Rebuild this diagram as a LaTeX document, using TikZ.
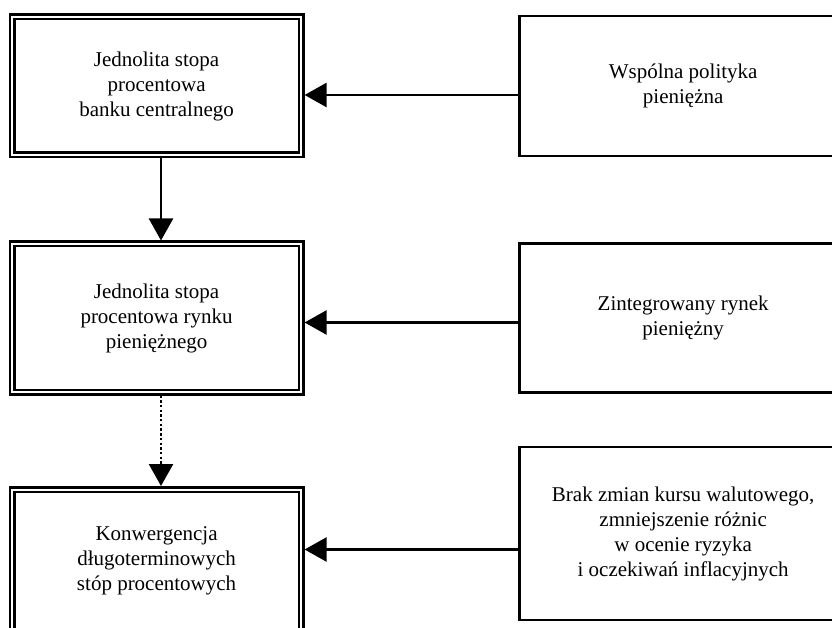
\documentclass[tikz,border=0pt]{standalone}
\usepackage{fontspec}
\setmainfont{Liberation Serif}
\usetikzlibrary{positioning,arrows.meta}

\begin{document}
\begin{tikzpicture}[
  x=1pt,y=1pt,
  node distance=82pt,
  rate/.style={draw=black,line width=2.5pt,double=white,double distance=2pt,outer sep=3.5pt,fill=white,minimum width=289pt,align=center,font=\fontsize{21}{25}\selectfont},
  cause/.style={draw=black,line width=2.5pt,fill=white,minimum width=327pt,align=center,font=\fontsize{21}{25}\selectfont},
  arr/.style={-{Triangle[length=22pt,width=24pt]},line width=2.5pt,draw=black},
  dotarr/.style={arr,dash pattern=on 2.4pt off 2.3pt}
]
\useasboundingbox (0,0) rectangle (832,627);
\clip (0,0) rectangle (832,627);
\node[rate,minimum height=138pt] (cbrate) at (156.6,541) {Jednolita stopa\\procentowa\\banku centralnego};
\node[rate,minimum height=148pt,below=of cbrate] (mmrate) {Jednolita stopa\\procentowa rynku\\pieniężnego};
\node[rate,minimum height=142pt,below=90.5pt of mmrate] (ltrate) {Konwergencja\\długoterminowych\\stóp procentowych};
\node[cause,minimum height=140pt,right=213.8pt of cbrate] (policy) {Wspólna polityka\\pieniężna};
\node[cause,minimum height=148.7pt,right=213.8pt of mmrate] (market) {Zintegrowany rynek\\pieniężny};
\node[cause,minimum height=173pt,right=213.8pt of ltrate,yshift=26.8pt] (fx) {Brak zmian kursu walutowego,\\zmniejszenie różnic\\w ocenie ryzyka\\i oczekiwań inflacyjnych};
\draw[arr] ([yshift=-9pt]policy.west) -- ([yshift=-9pt]cbrate.east);
\draw[arr] ([yshift=-4.5pt]market.west) -- ([yshift=-4.5pt]mmrate.east);
\draw[arr] ([yshift=-15.8pt]fx.west) -- ([yshift=11pt]ltrate.east);
\draw[arr] ([xshift=4.4pt]cbrate.south) -- ([xshift=4.4pt]mmrate.north);
\draw[dotarr] ([xshift=4.4pt]mmrate.south) -- ([xshift=4.4pt]ltrate.north);
\end{tikzpicture}
\end{document}
